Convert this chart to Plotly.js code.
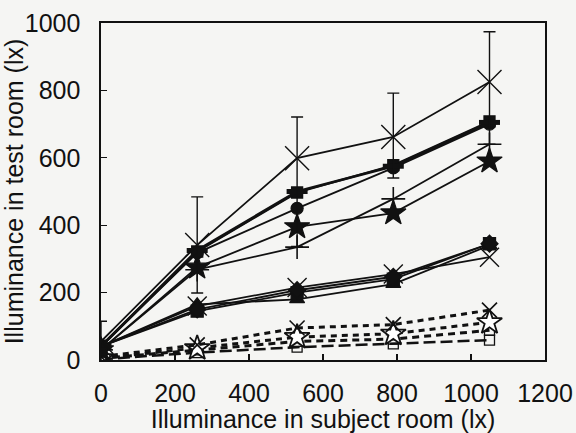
<!DOCTYPE html>
<html>
<head>
<meta charset="utf-8">
<script src="https://cdn.plot.ly/plotly-3.0.1.min.js"></script>
<style>html,body{margin:0;padding:0;background:#f5f5f3;}#chart{width:576px;height:433px;}</style>
</head>
<body>
<div id="chart"></div>
<script>
// x positions (subject room illuminance, lx)
const subjectLx = [0, 260, 530, 790, 1050];

// upper group (solid lines)
const upperX     = [55, 341, 599, 662, 825];
const upperXErrPlus  = [60, 143, 122, 130, 149];
const upperXErrMinus = [20, 142, 262, 122, 185];
const upperDash  = [40, 325, 500, 575, 705];
const upperCirc  = [40, 318, 450, 570, 700];
const upperSq    = [42, 322, 497, 578, 708];
const upperStar  = [30, 275, 395, 436, 590];
const upperPlus  = [30, 268, 335, 478, 640];

// middle group (solid lines)
const midX    = [40, 160, 215, 255, 305];
const midSq   = [40, 145, 200, 240, 345];
const midTri  = [40, 165, 180, 225, 340];
const midDia  = [40, 150, 207, 247, 345];

// lower group (dashed lines)
const lowX    = [10, 45, 95, 105, 148];
const lowStar = [5, 35, 68, 78, 112];
const lowSq1  = [5, 30, 55, 62, 88];
const lowSq2  = [2, 22, 38, 48, 59];

const xTicks = [0, 200, 400, 600, 800, 1000, 1200];
const yTicks = [0, 200, 400, 600, 800, 1000];

function tr(y, sym, size, opts) {
  opts = opts || {};
  return {
    x: subjectLx, y: y, type: 'scatter', mode: 'lines+markers',
    line: {color: '#111', width: opts.lw || 1.8, dash: opts.dash || 'solid'},
    marker: {symbol: sym, size: size, color: opts.fill || '#111',
             line: {color: '#111', width: opts.mlw || 1.3}},
    error_y: opts.err || {visible: false},
    showlegend: false, hoverinfo: 'skip'
  };
}

const data = [
  // lower dashed group
  tr(lowSq2, 'square-open', 10, {dash: '12px,5px', lw: 2.5}),
  tr(lowSq1, 'square-open', 10, {dash: '7px,5px', lw: 3}),
  tr(lowStar, 'star', 19, {dash: '6px,5px', lw: 3, fill: '#fff', mlw: 1.8}),
  tr(lowX, 'x-thin', 15, {dash: '6px,5px', lw: 3, mlw: 1.6}),
  // middle group
  tr(midX, 'x-thin', 19, {mlw: 1.4}),
  tr(midTri, 'triangle-up', 13),
  tr(midSq, 'square', 12),
  tr(midDia, 'diamond', 13),
  // upper group
  tr(upperPlus, 'cross-thin', 17, {mlw: 1.6}),
  tr(upperStar, 'star', 19),
  tr(upperCirc, 'circle', 12),
  tr(upperSq, 'square', 11, {lw: 2.2}),
  tr(upperDash, 'line-ew', 15, {lw: 2.8, mlw: 5}),
  tr(upperX, 'x-thin', 24, {mlw: 1.4, err: {type: 'data', symmetric: false,
     array: upperXErrPlus, arrayminus: upperXErrMinus, color: '#111', thickness: 1.4, width: 6}})
];

const tickFont = {family: 'Liberation Sans, Arial, sans-serif', size: 25, color: '#111'};
const titleFont = {family: 'Liberation Sans, Arial, sans-serif', size: 25, color: '#111'};

const layout = {
  width: 576, height: 433,
  margin: {l: 101, r: 31, t: 23, b: 73},
  paper_bgcolor: '#f5f5f3', plot_bgcolor: '#f5f5f3',
  font: tickFont,
  xaxis: {
    range: [0, 1200], tickvals: xTicks, ticktext: xTicks.map(String),
    ticks: 'inside', ticklen: 6, tickwidth: 1.3, tickcolor: '#111',
    showline: true, linecolor: '#111', linewidth: 1.6, mirror: true,
    showgrid: false, zeroline: false, tickfont: tickFont, ticklabelstandoff: 10,
    title: {text: 'Illuminance in subject room (lx)', font: titleFont, standoff: 2}
  },
  yaxis: {
    range: [0, 1000], tickvals: yTicks, ticktext: yTicks.map(String),
    ticks: 'inside', ticklen: 6, tickwidth: 1.3, tickcolor: '#111',
    showline: true, linecolor: '#111', linewidth: 1.6, mirror: true,
    showgrid: false, zeroline: false, tickfont: tickFont, ticklabelstandoff: 14,
    title: {text: 'Illuminance in test room (lx)', font: titleFont, standoff: 2}
  }
};

Plotly.newPlot('chart', data, layout, {staticPlot: true, displayModeBar: false});
</script>
</body>
</html>
